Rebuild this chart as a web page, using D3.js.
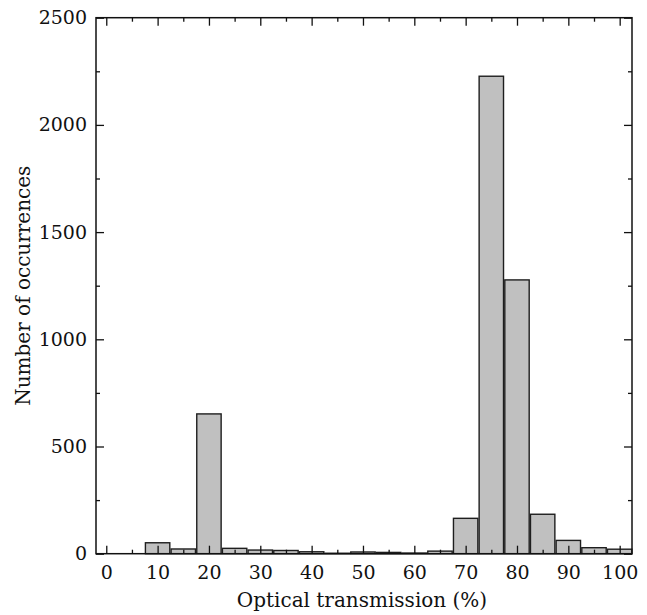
<!DOCTYPE html>
<html>
<head>
<meta charset="utf-8">
<script src="https://cdn.jsdelivr.net/npm/d3@7"></script>
<style>
  body { margin: 0; background: #fff; }
  text { font-family: "DejaVu Serif", serif; fill: #111; }
</style>
</head>
<body>
<div id="chart-area"></div>
<script>
// histogram bins (centre of bin, %) and counts
const bins = [10, 15, 20, 25, 30, 35, 40, 45, 50, 55, 60, 65, 70, 75, 80, 85, 90, 95, 100];
const counts = [51, 22, 652, 25, 17, 15, 9, 2, 8, 6, 3, 12, 165, 2227, 1277, 184, 62, 28, 21];
const xMajor = [0, 10, 20, 30, 40, 50, 60, 70, 80, 90, 100];
const xMinor = [5, 15, 25, 35, 45, 55, 65, 75, 85, 95];
const yMajor = [0, 500, 1000, 1500, 2000, 2500];
const yMinor = [250, 750, 1250, 1750, 2250];

const W = 647, H = 615;
const plotLeft = 96, plotRight = 632, plotTop = 17.7, plotBottom = 553.7;
const binWidth = 4.75;

const svg = d3.select('#chart-area')
  .append('svg')
    .attr('width', W)
    .attr('height', H);

const x = d3.scaleLinear().domain([-2, 102.4]).range([plotLeft, plotRight]);
const y = d3.scaleLinear().domain([0, 2500]).range([plotBottom, plotTop]);

const data = bins.map((b, i) => ({ bin: b, count: counts[i] }));

// bars
svg.append('g')
  .selectAll('rect')
  .data(data)
  .enter()
  .append('rect')
    .attr('x', d => x(d.bin - binWidth / 2))
    .attr('y', d => y(d.count))
    .attr('width', d => x(d.bin + binWidth / 2) - x(d.bin - binWidth / 2))
    .attr('height', d => plotBottom - y(d.count))
    .attr('fill', '#c0c0c0')
    .attr('stroke', '#1e1e1e')
    .attr('stroke-width', 1.4);

// axes with inward ticks
const addAxis = (axis, transform, values, size, labels) => {
  const g = svg.append('g')
    .attr('transform', transform)
    .call(axis.tickValues(values).tickSizeInner(-size).tickSizeOuter(0)
      .tickPadding(labels ? 12 : 0)
      .tickFormat(labels ? d3.format('d') : ''));
  g.select('.domain').remove();
  g.selectAll('line').attr('stroke', '#111').attr('stroke-width', 1.3);
  g.selectAll('text').attr('font-size', 19).style('font-family', '"DejaVu Serif", serif').attr('fill', '#111');
  return g;
};

addAxis(d3.axisBottom(x), `translate(0,${plotBottom})`, xMajor, 8, true);
addAxis(d3.axisBottom(x), `translate(0,${plotBottom})`, xMinor, 4, false);
addAxis(d3.axisTop(x), `translate(0,${plotTop})`, xMajor, 8, false);
addAxis(d3.axisTop(x), `translate(0,${plotTop})`, xMinor, 4, false);
const yl = addAxis(d3.axisLeft(y), `translate(${plotLeft},0)`, yMajor, 8, true);
yl.selectAll('text').attr('x', -9);
addAxis(d3.axisLeft(y), `translate(${plotLeft},0)`, yMinor, 4, false);
addAxis(d3.axisRight(y), `translate(${plotRight},0)`, yMajor, 8, false);
addAxis(d3.axisRight(y), `translate(${plotRight},0)`, yMinor, 4, false);

// frame
svg.append('rect')
  .attr('x', plotLeft)
  .attr('y', plotTop)
  .attr('width', plotRight - plotLeft)
  .attr('height', plotBottom - plotTop)
  .attr('fill', 'none')
  .attr('stroke', '#111')
  .attr('stroke-width', 1.5);

// axis titles
svg.append('text')
  .attr('x', 362)
  .attr('y', 607)
  .attr('text-anchor', 'middle')
  .attr('font-size', 20)
  .text('Optical transmission (%)');

svg.append('text')
  .attr('transform', `translate(30,${(plotTop + plotBottom) / 2}) rotate(-90)`)
  .attr('text-anchor', 'middle')
  .attr('font-size', 20)
  .text('Number of occurrences');
</script>
</body>
</html>
